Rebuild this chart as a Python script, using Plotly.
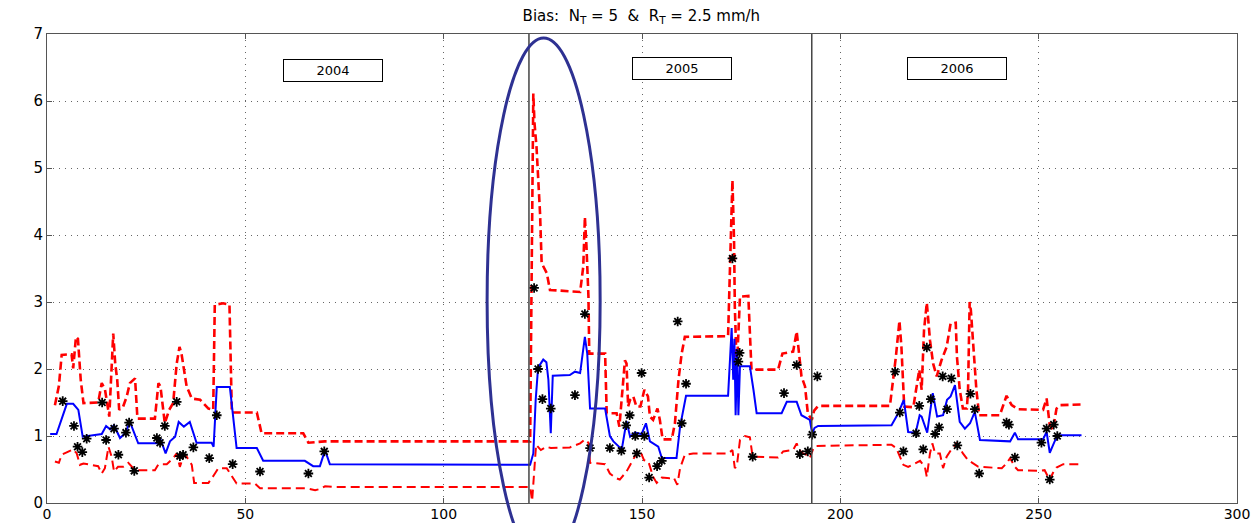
import plotly.graph_objects as go

# ---- data ----
est_x = [0.8, 2.4, 5.0, 6.6, 7.9, 9.0, 13.8, 14.9, 15.9, 16.9, 18.4, 19.7, 20.9, 23.0, 27.7, 28.5, 29.9, 31.0,
         32.3, 33.2, 34.5, 36.0, 37.7, 41.5, 42.0, 42.8, 46.1, 47.4, 47.8, 52.9, 54.5, 65.0, 67.1, 68.8, 70.1,
         71.3, 121.8, 122.6, 123.2, 123.8, 125.1, 125.9, 126.4, 127.0, 127.5, 131.8, 133.1, 134.4, 135.6, 136.2,
         136.9, 140.7, 141.9, 142.8, 144.9, 146.1, 147.0, 148.2, 149.9, 151.0, 152.0, 154.1, 155.0, 158.7, 159.6,
         161.1, 171.7, 172.6, 173.0, 173.3, 173.6, 174.0, 174.3, 174.7, 177.2, 178.1, 178.9, 185.2, 186.5, 189.0,
         190.2, 192.3, 192.9, 193.5, 194.4, 212.9, 214.6, 216.0, 217.1, 219.0, 220.0, 220.5, 221.9, 223.3, 224.4,
         225.9, 226.9, 227.8, 228.9, 230.1, 231.4, 232.7, 233.9, 235.2, 242.8, 244.0, 244.8, 251.1, 252.0, 252.8,
         254.1, 255.4, 260.8]
est_y = [1.03, 1.03, 1.48, 1.48, 1.39, 0.99, 1.03, 1.15, 1.10, 1.16, 0.97, 1.04, 1.21, 0.89, 0.89, 0.97, 0.74, 0.92,
         0.99, 1.21, 1.14, 1.21, 0.90, 0.90, 0.84, 1.73, 1.73, 0.97, 0.82, 0.82, 0.63, 0.63, 0.55, 0.55, 0.79,
         0.58, 0.57, 0.74, 1.54, 2.02, 2.14, 2.10, 1.84, 1.04, 1.90, 1.91, 1.96, 1.94, 2.48, 2.23,
         1.41, 1.41, 1.00, 0.92, 0.80, 1.22, 0.99, 1.05, 1.03, 1.19, 0.92, 0.84, 0.67, 0.67, 1.14,
         1.60, 1.60, 2.61, 1.84, 2.45, 1.31, 2.30, 1.31, 2.04, 2.04, 1.69, 1.34, 1.34, 1.51, 1.51,
         1.31, 1.24, 1.04, 1.12, 1.15, 1.16, 1.34, 1.54, 1.06, 1.05, 1.31, 1.29, 1.05, 1.64, 1.29,
         1.31, 1.54, 1.59, 1.76, 1.21, 1.11, 1.19, 1.36, 0.94, 0.92, 1.05, 0.95, 0.95, 1.06, 0.75,
         0.93, 1.01, 1.01]

upper_x = [2.0, 3.0, 3.7, 6.2, 6.6, 7.3, 7.8, 8.5, 9.2, 12.9, 13.8, 14.6, 15.7, 16.3, 16.7, 17.2, 17.7, 18.2, 19.2,
           20.1, 20.9, 22.2, 22.8, 27.2, 28.1, 28.6, 29.7, 30.8, 31.8, 32.7, 33.4, 33.9, 34.5, 35.2, 36.5, 38.6,
           40.7, 41.9, 42.3, 44.4, 46.0, 46.6, 52.9, 54.1, 64.6, 65.9, 70.0, 121.8, 122.6, 122.9, 123.4, 123.8,
           124.3, 124.7, 126.0, 126.8, 134.4, 135.2, 135.6, 136.0, 136.5, 136.7, 140.7, 141.1, 143.6, 144.3,
           144.6, 145.7, 146.1, 146.5, 147.0, 147.8, 148.6, 149.6, 150.6, 151.5, 152.0, 152.8, 153.9, 154.5,
           155.2, 157.5, 158.3, 159.2, 160.0, 160.8, 171.7, 172.8, 173.2, 173.4, 173.9, 174.3, 174.7, 176.8,
           177.6, 184.3, 185.4, 188.1, 189.0, 189.6, 190.2, 191.1, 191.8, 192.8, 193.4, 194.4, 212.5, 214.0,
           214.9, 215.4, 216.1, 218.4, 219.3, 219.9, 220.5, 221.1, 221.8, 222.6, 223.4, 224.3, 225.5, 226.8,
           227.8, 229.1, 229.4, 230.1, 230.9, 231.9, 232.2, 232.6, 232.9, 233.5, 234.3, 235.0, 240.2, 241.9,
           243.2, 244.8, 251.1, 252.0, 252.8, 253.6, 254.5, 255.4, 260.8]
upper_y = [1.46, 1.75, 2.21, 2.22, 2.01, 2.48, 2.45, 1.84, 1.49, 1.50, 1.79, 1.70, 1.29, 2.18, 2.53, 2.08, 1.84, 1.39,
           1.44, 1.59, 1.79, 1.86, 1.26, 1.26, 1.79, 1.74, 1.19, 1.39, 1.49, 2.08, 2.33, 2.23, 2.03, 1.74, 1.56,
           1.54, 1.41, 1.39, 2.96, 2.98, 2.96, 1.35, 1.35, 1.04, 1.04, 0.90, 0.92, 0.92, 6.11, 5.67, 5.32, 4.92,
           4.32, 3.58, 3.43, 3.18, 3.15, 3.53, 4.27, 3.83, 3.08, 2.23, 2.23, 1.34, 1.34, 1.14,
           1.34, 2.13, 2.08, 1.44, 1.54, 1.59, 1.44, 1.44, 1.69, 1.59, 1.29, 1.24, 1.41, 1.24,
           0.95, 0.95, 1.19, 1.84, 2.23, 2.48, 2.49, 4.82, 3.93, 2.93, 1.99, 2.63, 3.08, 3.09,
           1.99, 1.99, 2.23, 2.26, 2.56, 2.23, 1.89, 1.74, 1.34, 1.24, 1.38, 1.45, 1.45, 2.18,
           2.72, 2.33, 1.44, 1.43, 1.74, 1.99, 1.69, 2.58, 2.99, 2.43, 2.08, 1.89, 2.13, 2.33,
           2.68, 2.69, 2.18, 1.69, 1.41, 1.41, 1.69, 3.00, 2.88, 2.43, 1.69, 1.31, 1.31, 1.60,
           1.46, 1.40, 1.39, 1.56, 1.16, 1.09, 1.41, 1.46, 1.47]

lower_x = [2.0, 3.0, 3.7, 5.8, 6.6, 7.5, 8.3, 9.2, 11.7, 12.9, 13.8, 14.6, 15.5, 16.3, 16.9, 17.9, 19.2, 20.5, 22.2,
           27.2, 28.1, 30.2, 31.8, 32.7, 33.5, 34.5, 35.2, 36.5, 37.1, 40.7, 41.9, 43.2, 45.3, 46.6, 47.8, 52.4,
           53.7, 65.5, 67.6, 68.8, 70.1, 72.0, 121.8, 122.3, 123.3, 124.5, 125.9, 127.0, 131.8, 134.4, 135.6,
           136.5, 136.9, 140.7, 141.9, 143.5, 144.4, 146.1, 147.8, 149.1, 149.8, 150.5, 151.6, 152.8, 153.7,
           155.0, 157.0, 158.0, 158.9, 159.6, 160.8, 162.9, 171.7, 172.8, 173.4, 173.9, 174.7, 176.0, 177.2,
           177.9, 184.3, 185.6, 188.1, 189.0, 189.6, 190.6, 191.5, 192.3, 193.1, 193.6, 212.9, 214.1, 215.9,
           217.1, 218.8, 220.1, 221.3, 221.8, 222.6, 223.2, 223.9, 225.1, 225.9, 226.8, 228.0, 229.3, 229.9,
           230.9, 232.2, 233.5, 234.8, 240.7, 241.9, 242.8, 244.0, 244.8, 250.3, 251.5, 252.8, 253.6, 254.5,
           256.2, 260.8]
lower_y = [0.62, 0.60, 0.72, 0.77, 0.80, 0.74, 0.57, 0.59, 0.57, 0.55, 0.44, 0.52, 0.84, 0.69, 0.47, 0.54, 0.54, 0.60, 0.49,
           0.49, 0.58, 0.58, 0.67, 0.74, 0.54, 0.72, 0.69, 0.57, 0.30, 0.30, 0.40, 0.52, 0.52, 0.40, 0.29, 0.29,
           0.22, 0.22, 0.19, 0.21, 0.25, 0.24, 0.24, 0.03, 0.87, 0.79, 0.84, 0.82, 0.83, 0.89, 0.95,
           0.90, 0.60, 0.58, 0.44, 0.37, 0.35, 0.47, 0.64, 0.79, 0.74, 0.64, 0.62, 0.39, 0.30,
           0.38, 0.37, 0.38, 0.27, 0.52, 0.72, 0.74, 0.74, 0.79, 0.52, 0.55, 0.94, 1.00, 0.98,
           0.69, 0.68, 0.77, 0.79, 0.89, 0.79, 0.74, 0.72, 0.67, 0.80, 0.85, 0.87, 0.82, 0.57,
           0.54, 0.59, 0.63, 0.54, 0.39, 0.74, 0.89, 0.74, 0.74, 0.52, 0.69, 0.80, 0.89, 0.84,
           0.74, 0.64, 0.59, 0.54, 0.52, 0.59, 0.67, 0.54, 0.49, 0.48, 0.49, 0.34, 0.45, 0.53,
           0.58, 0.58]

obs_x = [3.96, 6.8, 7.7, 8.9, 10.0, 13.9, 14.9, 16.9, 18.0, 19.9, 20.7, 22.0, 27.7, 28.5, 29.7, 32.7, 33.5, 34.3,
         36.9, 40.9, 42.8, 46.8, 53.7, 65.9, 69.9,
         122.8, 123.8, 124.9, 127.0, 133.1, 135.6, 136.9, 141.9, 144.8, 146.0, 146.9, 148.7, 149.9, 148.3, 150.6,
         151.8, 153.8, 155.0, 159.0, 160.0, 161.1, 172.8, 174.3, 174.6, 177.9, 185.8, 189.0, 189.8, 191.8, 192.9,
         194.2,
         213.8, 215.0, 215.9, 219.1, 219.9, 220.9, 221.8, 222.8, 223.9, 224.9, 225.8, 226.9, 228.0, 229.5, 232.8,
         233.9, 235.0, 241.9, 242.5, 244.0, 250.7, 252.0, 252.8, 253.8, 254.7]
obs_y = [1.52, 1.15, 0.84, 0.76, 0.96, 1.50, 0.94, 1.11, 0.72, 1.05, 1.20, 0.48, 0.97, 0.90, 1.15, 1.51, 0.70, 0.72,
         0.83, 0.67, 1.31, 0.58, 0.47, 0.44, 0.77,
         3.21, 2.00, 1.55, 1.41, 1.61, 2.82, 0.82, 0.82, 0.78, 1.16, 1.31, 0.74, 1.94, 1.00, 1.00,
         0.38, 0.55, 0.63, 2.71, 1.19, 1.78, 3.65, 2.11, 2.24, 0.69, 1.64, 2.06, 0.73, 0.77, 1.02,
         1.89,
         1.96, 1.35, 0.77, 1.04, 1.45, 0.80, 2.32, 1.55, 1.03, 1.13, 1.89, 1.40, 1.86, 0.86, 1.63,
         1.40, 0.44, 1.20, 1.17, 0.68, 0.90, 1.11, 0.35, 1.17, 1.00]

year_labels = ["2004", "2005", "2006"]
year_label_x = [72.1, 160.1, 229.3]
year_label_y = [6.45, 6.48, 6.49]
year_boundaries = [121.5, 192.8]
x_ticks = [0, 50, 100, 150, 200, 250, 300]
y_ticks = [0, 1, 2, 3, 4, 5, 6, 7]

FONT = "DejaVu Sans, Liberation Sans, Arial"

fig = go.Figure()
fig.add_trace(go.Scatter(x=upper_x, y=upper_y, mode="lines",
                         line=dict(color="#ff0000", width=2.6, dash="8px,4px"), showlegend=False))
fig.add_trace(go.Scatter(x=lower_x, y=lower_y, mode="lines",
                         line=dict(color="#ff0000", width=2, dash="9px,5px"), showlegend=False))
fig.add_trace(go.Scatter(x=est_x, y=est_y, mode="lines",
                         line=dict(color="#0000ff", width=2), showlegend=False))
fig.add_trace(go.Scatter(x=obs_x, y=obs_y, mode="markers",
                         marker=dict(symbol="asterisk-open", size=8, color="black",
                                     line=dict(color="black", width=1.8)), showlegend=False))

for xb in year_boundaries:
    fig.add_shape(type="line", xref="x", yref="y", x0=xb, x1=xb, y0=0, y1=7,
                  line=dict(color="#444444", width=1.5))

# highlight ellipse (domain refs so it is not clipped at the axis)
cx, hw = 125.2, 14.25
fig.add_shape(type="circle", xref="x domain", yref="y domain",
              x0=(cx - hw) / 300, x1=(cx + hw) / 300, y0=-0.9 / 7, y1=6.94 / 7,
              line=dict(color="#2e3192", width=3))

for t, xl, yl in zip(year_labels, year_label_x, year_label_y):
    fig.add_annotation(x=xl, y=yl, xref="x", yref="y", text=t, showarrow=False,
                       font=dict(family=FONT, size=13, color="black"),
                       width=94, height=17, bordercolor="black", borderwidth=1, borderpad=2,
                       bgcolor="white")

fig.update_layout(
    width=1260, height=523,
    margin=dict(l=47, r=23, t=34, b=20, autoexpand=False),
    paper_bgcolor="white", plot_bgcolor="white",
    title=dict(text="Bias:  N<sub>T</sub> = 5  &amp;  R<sub>T</sub> = 2.5 mm/h", x=0.509, xanchor="center",
               y=0.97, yanchor="middle",
               font=dict(family=FONT, size=15, color="black")),
    font=dict(family=FONT, size=15, color="black"),
)
fig.update_xaxes(range=[0, 300], tickvals=x_ticks, showgrid=True, gridcolor="#666666", griddash="1px,5px",
                 gridwidth=1, showline=True, linecolor="#555555", linewidth=1, mirror="ticks",
                 ticks="inside", ticklen=5, tickcolor="#555555", zeroline=False, automargin=False,
                 tickfont=dict(family=FONT, size=14, color="black"), ticklabelstandoff=-2)
fig.update_yaxes(range=[0, 7], tickvals=y_ticks, showgrid=True, gridcolor="#666666", griddash="1px,5px",
                 gridwidth=1, showline=True, linecolor="#555555", linewidth=1, mirror="ticks",
                 ticks="inside", ticklen=5, tickcolor="#555555", zeroline=False, automargin=False,
                 tickfont=dict(family=FONT, size=15, color="black"))

fig.write_html("out.html")
